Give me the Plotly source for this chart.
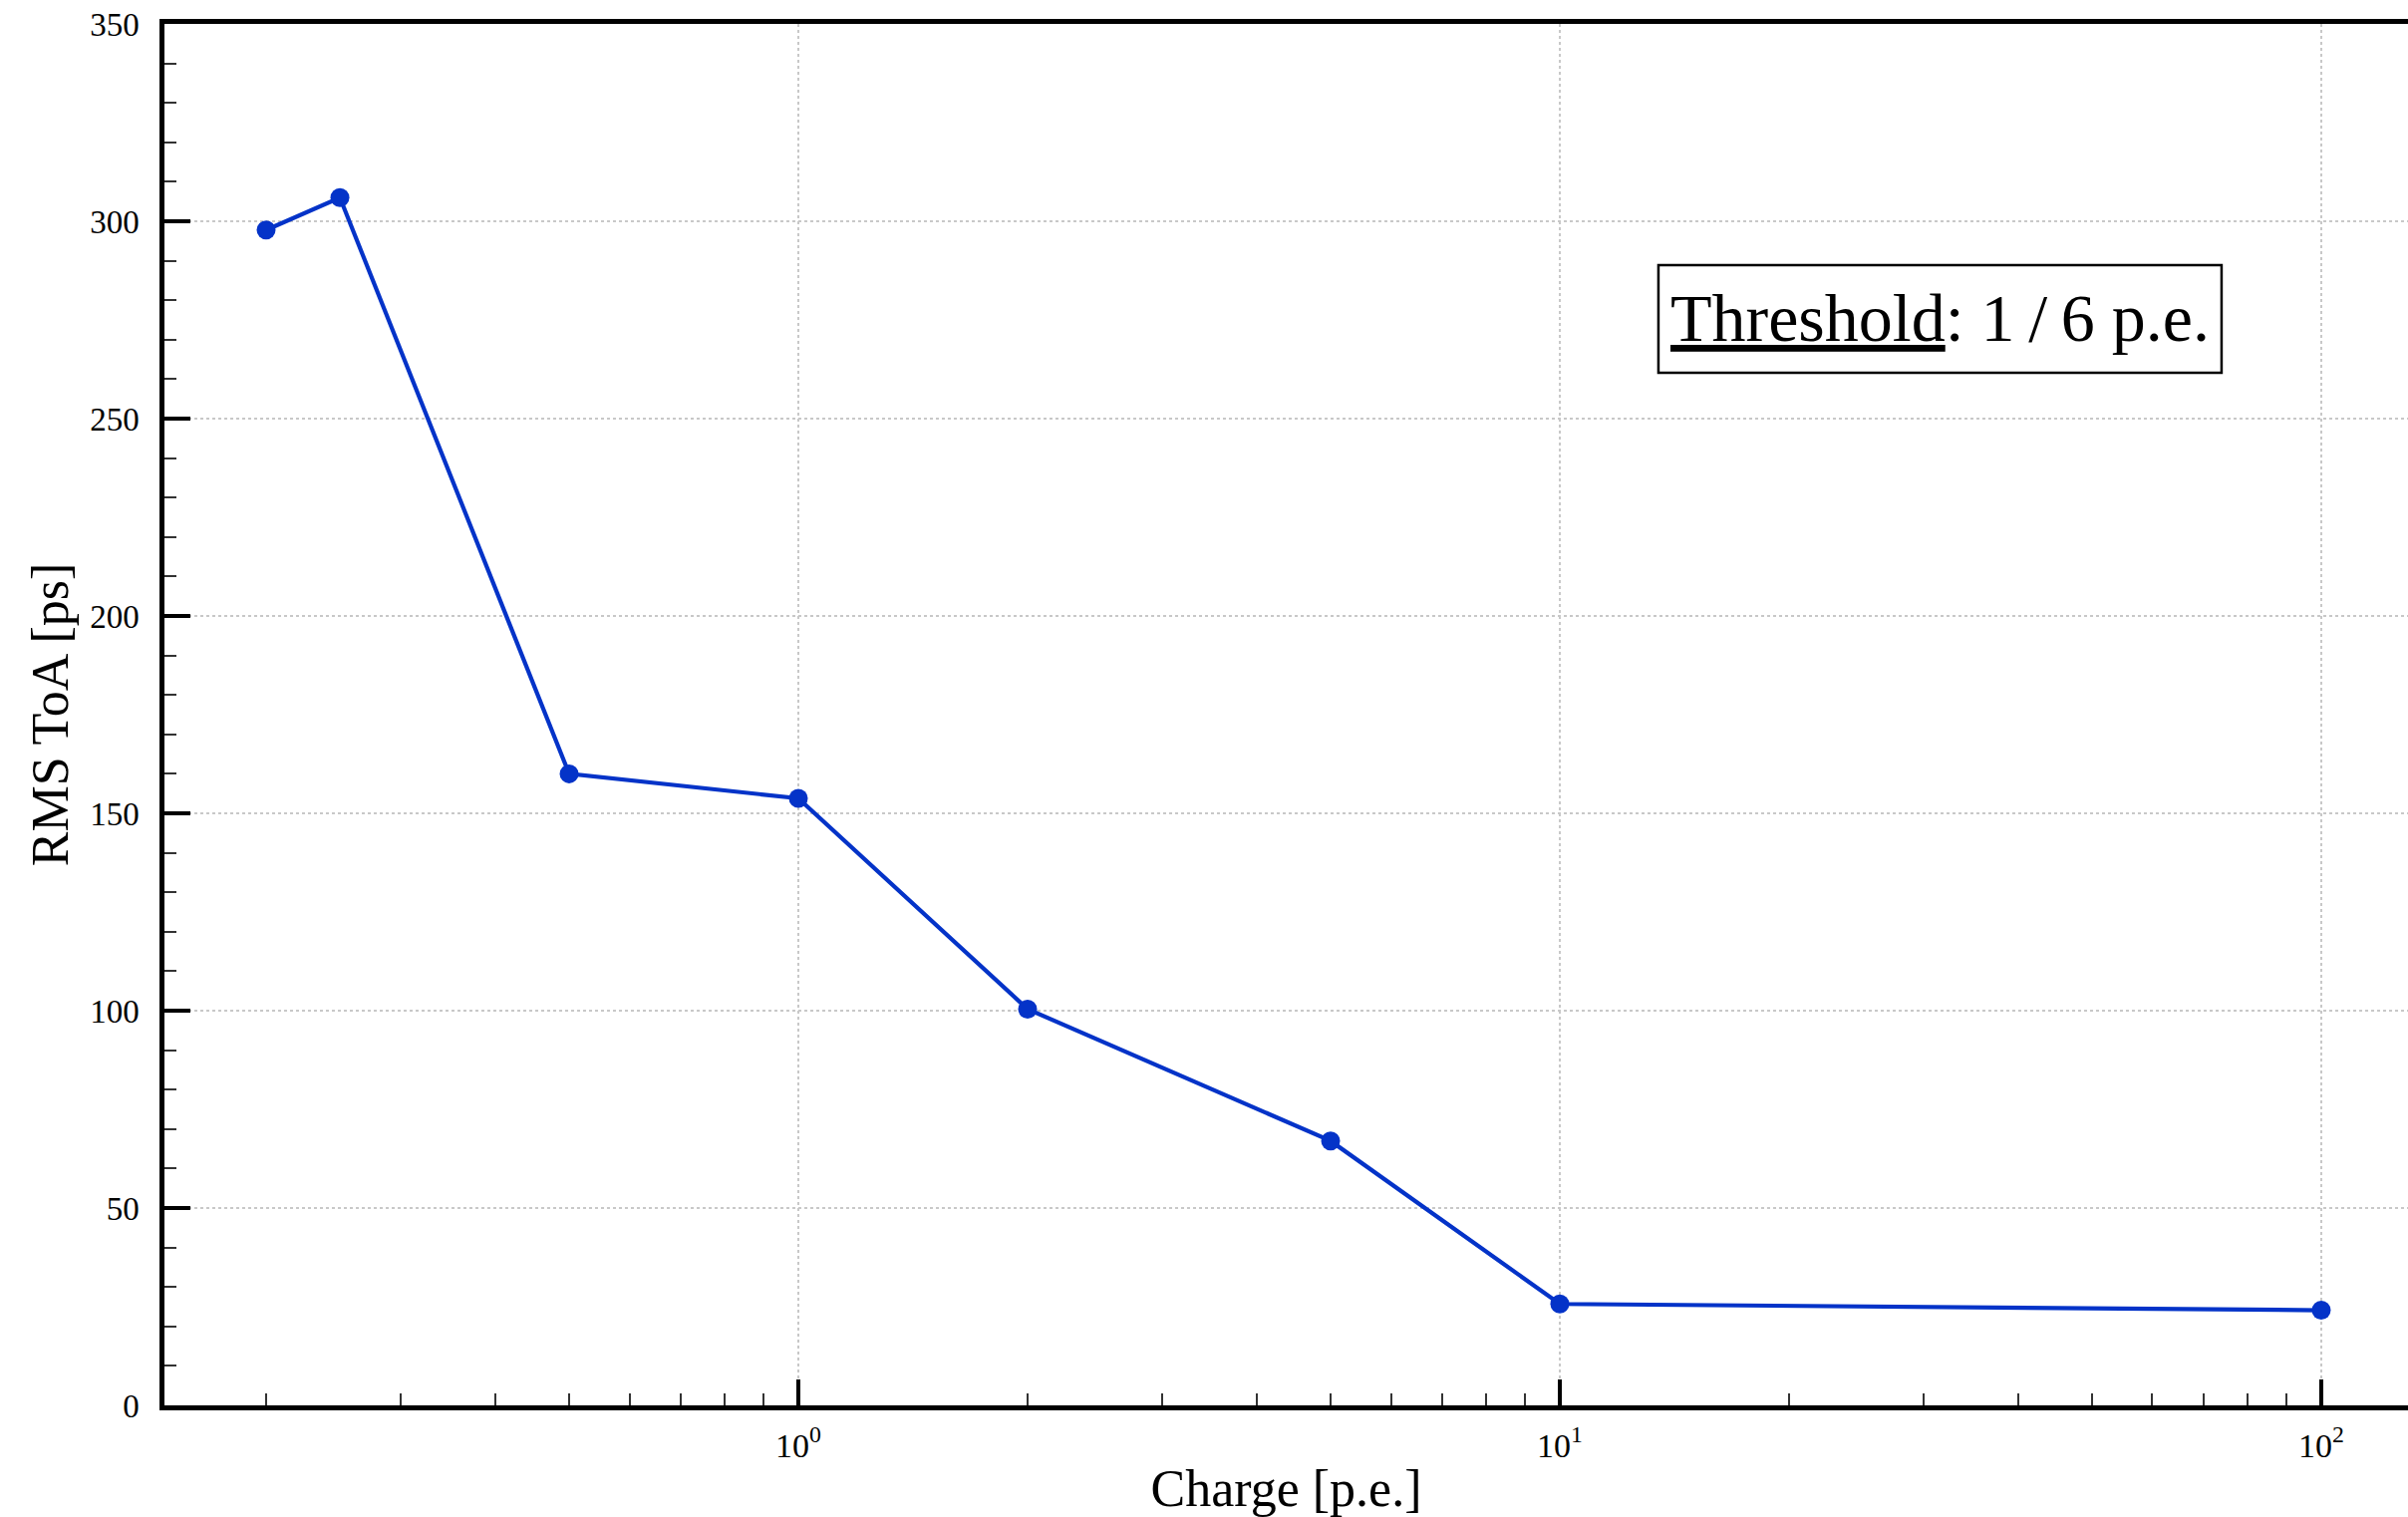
import plotly.graph_objects as go

charge = [0.2, 0.25, 0.5, 1, 2, 5, 10, 100]
rms_toa = [297.8, 306.0, 160.0, 153.8, 100.4, 67.0, 25.7, 24.1]

x_tickvals = [1, 10, 100]
x_ticktext = ["10<sup>0</sup>", "10<sup>1</sup>", "10<sup>2</sup>"]
y_tickvals = [0, 50, 100, 150, 200, 250, 300, 350]

FONT = "Liberation Serif"
BLUE = "#0433c8"

fig = go.Figure()
fig.add_trace(go.Scatter(
    x=charge, y=rms_toa, mode="lines+markers",
    line=dict(color=BLUE, width=4.2),
    marker=dict(color=BLUE, size=19),
    showlegend=False,
))

fig.update_layout(
    width=2416, height=1522,
    margin=dict(l=165, r=0, t=24, b=112),
    paper_bgcolor="white", plot_bgcolor="white",
    font=dict(family=FONT, color="black"),
    shapes=[dict(
        type="rect", xref="paper", yref="paper",
        x0=0.6659, x1=0.9169, y0=0.7475, y1=0.8254,
        line=dict(color="black", width=2.5), fillcolor="white", layer="above",
    )],
    annotations=[dict(
        text="<u>Threshold</u>: 1\u2009/\u20096 p.e.",
        xref="paper", yref="paper", x=0.7914, y=0.7875,
        xanchor="center", yanchor="middle", showarrow=False,
        font=dict(family=FONT, size=68, color="black"),
    )],
)

fig.update_xaxes(
    type="log", range=[-0.8325, 2.1139],
    showline=True, linecolor="black", linewidth=4.5, mirror=True,
    ticks="inside", ticklen=26, tickwidth=4, tickcolor="black",
    tickvals=x_tickvals, ticktext=x_ticktext,
    tickfont=dict(size=34, family=FONT),
    ticklabelstandoff=6,
    showgrid=True, gridcolor="#c8c8c8", gridwidth=1.5, griddash="dot",
    minor=dict(ticks="inside", ticklen=12, tickwidth=1.5, tickcolor="#333",
               dtick="D1", showgrid=False),
    title=dict(text="Charge [p.e.]", font=dict(size=52, family=FONT), standoff=12),
    zeroline=False,
)

fig.update_yaxes(
    range=[0, 350],
    showline=True, linecolor="black", linewidth=4.5, mirror=False,
    ticks="inside", ticklen=26, tickwidth=4, tickcolor="black",
    tickvals=y_tickvals,
    tickfont=dict(size=33, family=FONT),
    ticklabelstandoff=14,
    showgrid=True, gridcolor="#c8c8c8", gridwidth=1.5, griddash="dot",
    minor=dict(ticks="inside", ticklen=12, tickwidth=1.5, tickcolor="#333",
               dtick=10, showgrid=False),
    title=dict(text="RMS ToA [ps]", font=dict(size=52, family=FONT), standoff=6),
    zeroline=False,
)

fig.write_html("out.html")
